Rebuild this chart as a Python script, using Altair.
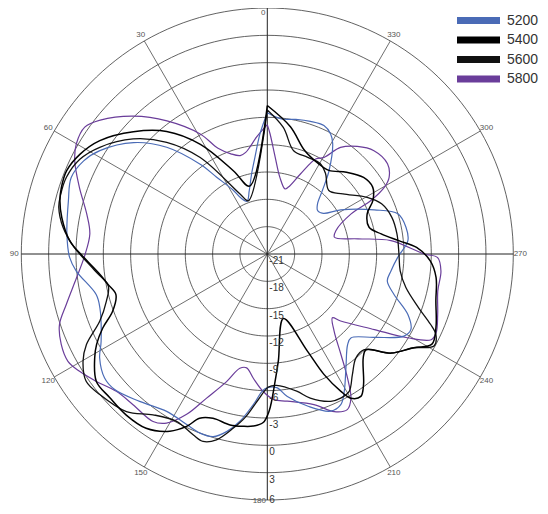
import altair as alt
import pandas as pd

# ---------------- data ----------------
series = ["5200", "5400", "5600", "5800"]
colors = ["#4a6bb6", "#000000", "#111111", "#6a3d9a"]
widths = [1.2, 1.5, 1.3, 1.2]

angles_5200 = [0, 3.5, 7.3, 11, 16, 21, 25.6, 28, 33.4, 36.8, 43.3, 50.2, 58.3, 63.1, 68.7, 75, 84.4, 91,
               95.1, 103.3, 107.8, 117.7, 121.8, 127.3, 131.6, 139.1, 147.4, 154.7, 159.4, 163.5, 167.1,
               170.7, 174.7, 179, 184, 188, 195, 202, 206, 209.2, 214.6, 221.5, 224.9, 232.1, 239, 242.3,
               246.7, 252.3, 257.3, 262.2, 268.4, 275.4, 280.9, 287.1, 292.4, 301, 306, 310.9, 315, 319,
               323.5, 329.4, 332.2, 336.2, 342, 348, 354, 360]
values_5200 = [-5.5, -7.8, -10.3, -12.0, -13.8, -14.8, -14.1, -13.1, -10.9, -8.7, -4.9, -1.9, 0.6, 1.6, 2.1, 1.6,
               1.1, 0.7, 0.05, -1.7, -1.7, -0.4, 0.65, 1.45, 1.4, 0.4, -0.5, -0.3, 0.0, -0.1, -1.0, -2.4,
               -4.4, -6.2, -6.3, -5.2, -3.7, -2.4, -2.6, -3.7, -5.8, -7.7, -8.0, -6.1, -3.5, -3.2, -4.2,
               -6.4, -7.5, -7.3, -6.7, -5.5, -5.5, -6.0, -8.3, -11.6, -13.4, -13.7, -13.2, -11.8, -9.6,
               -6.9, -6.1, -5.6, -5.7, -5.9, -6.1, -5.5]

angles_5400 = [0, 14.6, 22, 31.4, 39.4, 47.6, 55.9, 62, 67.5, 72.1, 75.6, 80, 86.1, 91.2, 97, 100.8, 105,
               110.3, 114.2, 117.9, 121, 126.7, 132.4, 138.8, 145.2, 151.2, 154.9, 157.6, 161.7, 167.7, 172,
               175.3, 178.6, 180.7, 183.5, 185.9, 194, 202.4, 205.2, 208.2, 210.1, 213.3, 216.4, 222.8,
               225.9, 231.3, 237.4, 241.3, 246.4, 254.5, 262.1, 267.6, 272.5, 275.8, 280, 284.7, 291.8,
               296.9, 302.4, 308.5, 315.9, 323.6, 330.5, 340.3, 349.7, 360]
values_5400 = [-4.7, -13.3, -11.2, -6.9, -3.6, -1.1, 1.2, 2.3, 2.85, 2.75, 2.5, 1.9, 0.75, -0.9, -2.5, -3.2,
               -3.8, -2.9, -1.2, 0.2, 1.1, 2.4, 2.4, 2.5, 2.3, 1.2, -0.1, -1.5, -2.0, -1.8, -1.9, -2.05,
               -2.5, -3.8, -7.0, -9.2, -13.7, -9.5, -6.4, -3.9, -2.7, -2.3, -3.2, -5.5, -5.9, -3.6, -1.9,
               -0.4, -0.8, -1.8, -2.3, -3.1, -4.6, -6.5, -8.3, -9.45, -9.2, -8.0, -7.3, -7.5, -8.5, -9.6,
               -9.6, -8.9, -6.8, -4.7]

angles_5600 = [0, 19.6, 24.3, 34.8, 42, 49.4, 57.5, 63.2, 69.1, 74, 77.4, 82.6, 88, 95.6, 101.4, 106.3,
               111.8, 116.6, 120.2, 125.1, 130, 138.2, 144.6, 151.5, 157.7, 161.1, 164.7, 168.9, 172.5,
               176.5, 180.5, 184, 192.1, 196.6, 203.3, 207, 210.8, 215.2, 220.4, 225.4, 231.3, 237.4,
               241.1, 244.5, 246.7, 250.5, 256.4, 262.8, 270, 278.8, 286.4, 293.7, 299.6, 308.5, 315.9,
               324.1, 329.7, 337.3, 345.7, 352.8, 360]
values_5600 = [-5.2, -14.8, -13.8, -8.1, -4.5, -1.6, 0.8, 2.05, 2.6, 2.6, 2.45, 1.6, 0.2, -2.0, -3.2, -2.6,
               -1.2, 1.2, 2.4, 3.3, 3.0, 2.2, 0.65, -0.1, 0.45, 0.75, 0.15, -1.5, -3.0, -5.0, -6.4, -6.55,
               -5.6, -4.5, -3.4, -3.25, -3.45, -4.8, -6.0, -6.05, -3.6, -1.9, -0.1, -0.5, -1.5, -3.4,
               -5.35, -6.3, -6.55, -6.6, -6.75, -7.3, -8.4, -10.4, -11.3, -10.1, -9.5, -9.5, -9.3, -7.0,
               -5.2]

angles_5800 = [0, 5.2, 9.2, 12, 15.4, 20, 25, 29.2, 37, 44.2, 51.3, 55.2, 60, 64.1, 70.4, 77.5, 83.6, 91,
               97.1, 104.1, 108.8, 113.7, 118.3, 122, 126.7, 132.3, 138.3, 145.7, 149.2, 153.3, 157.1,
               162.3, 166.5, 169.7, 173.5, 178.3, 182.6, 187.7, 197.2, 203, 207.2, 210.1, 212.9, 216.2,
               220.9, 225.6, 227.6, 234.8, 239.1, 242.4, 245, 250.4, 257.7, 264.4, 268.8, 270, 276.2,
               279.5, 284, 288.8, 295.6, 297.3, 299.7, 302.2, 306.9, 314.1, 320.1, 325.5, 329.6, 333,
               337.5, 342.5, 344.8, 350.6, 355.4, 358.7, 360]
values_5800 = [-6.8, -8.1, -9.1, -9.6, -9.8, -9.3, -8.2, -5.9, -2.7, 0.1, 2.5, 3.4, 3.2, 2.5, 0.9, -0.7,
               -1.4, -0.9, 0.1, 1.75, 3.1, 3.7, 3.85, 3.3, 2.4, 1.4, 1.15, 1.25, 0.6, -1.3, -3.8, -6.3,
               -8.1, -8.3, -7.3, -5.9, -5.0, -4.7, -3.7, -2.2, -1.8, -2.7, -4.8, -7.3, -9.8, -11.0, -10.1,
               -6.6, -3.1, -0.7, -0.55, -1.15, -1.85, -1.85, -2.3, -3.8, -7.35, -10.9, -13.4, -13.05,
               -10.8, -8.2, -6.2, -5.2, -4.5, -4.7, -5.6, -6.8, -8.7, -9.3, -11.5, -13.3, -13.6, -12.5,
               -10.3, -7.8, -6.8]

ring_ticks = [-18, -15, -12, -9, -6, -3, 0, 3, 6]
radial_labels = [-21, -18, -15, -12, -9, -6, -3, 0, 3, 6]
angle_ticks = [0, 30, 60, 90, 120, 150, 180, 210, 240, 270, 300, 330]

R_MIN, R_MAX = -21, 6

# ---------------- layout (style) ----------------
W, H = 532, 498
CX, CY, RPX = 259.3, 246.0, 246.0
XMIN, XMAX = -CX / RPX, (W - CX) / RPX
YMAX, YMIN = CY / RPX, -(H - CY) / RPX
xs = alt.Scale(domain=[XMIN, XMAX], nice=False, zero=False)
ys = alt.Scale(domain=[YMIN, YMAX], nice=False, zero=False)
SPAN = R_MAX - R_MIN
PX = 1.0 / RPX

XENC = alt.X("x:Q", scale=xs, axis=None)
YENC = alt.Y("y:Q", scale=ys, axis=None)

# rings
rings = alt.Chart(pd.DataFrame({"tick": ring_ticks})).transform_calculate(
    a="sequence(0, 362, 2)"
).transform_flatten(["a"]).transform_calculate(
    r=f"(datum.tick - ({R_MIN})) / {SPAN}",
    x="-datum.r * sin(datum.a * PI / 180)",
    y="datum.r * cos(datum.a * PI / 180)",
).mark_line(stroke="#3a3a3a", strokeWidth=0.8).encode(
    x=XENC, y=YENC, detail="tick:N", order="a:Q"
)

spoke_base = alt.Chart(pd.DataFrame({"a": angle_ticks})).transform_calculate(
    x="0", y="0",
    x1="-sin(datum.a * PI / 180)",
    y1="cos(datum.a * PI / 180)",
)
spokes = spoke_base.transform_filter("datum.a % 90 != 0").mark_rule(
    stroke="#4a4a4a", strokeWidth=0.8
).encode(x=XENC, y=YENC, x2="x1:Q", y2="y1:Q")
axes_main = spoke_base.transform_filter("datum.a % 90 == 0").mark_rule(
    stroke="#222222", strokeWidth=1.0
).encode(x=XENC, y=YENC, x2="x1:Q", y2="y1:Q")

# data lines
layers = [rings, spokes, axes_main]
series_data = {
    "5200": (angles_5200, values_5200),
    "5400": (angles_5400, values_5400),
    "5600": (angles_5600, values_5600),
    "5800": (angles_5800, values_5800),
}
for name in ["5800", "5200", "5600", "5400"]:
    i = series.index(name)
    angs, vals = series_data[name]
    df = pd.DataFrame({"angle": angs, "value": vals, "order": list(range(len(angs)))})
    ln = alt.Chart(df).transform_calculate(
        r=f"(datum.value - ({R_MIN})) / {SPAN}",
        x="-datum.r * sin(datum.angle * PI / 180)",
        y="datum.r * cos(datum.angle * PI / 180)",
    ).mark_line(interpolate="catmull-rom", stroke=colors[i], strokeWidth=widths[i]).encode(
        x=XENC, y=YENC, order="order:Q"
    )
    layers.append(ln)

# radial labels
rlabels = alt.Chart(pd.DataFrame({"tick": radial_labels})).transform_calculate(
    r=f"(datum.tick - ({R_MIN})) / {SPAN}",
    x=f"{2 * PX}",
    y=f"max(-datum.r - {7 * PX}, {YMIN + 6 * PX})",
    label="'' + datum.tick",
).mark_text(align="left", baseline="middle", fontSize=10, font="Liberation Sans",
            color="#333333").encode(x=XENC, y=YENC, text="label:N")
layers.append(rlabels)

# angle labels
alabels = alt.Chart(pd.DataFrame({"a": angle_ticks})).transform_calculate(
    lr=f"1 + {7 * PX}",
    x=f"datum.a == 0 ? {-4 * PX} : (datum.a == 180 ? {-8 * PX} : -sin(datum.a * PI / 180) * datum.lr)",
    y=f"datum.a == 0 ? {YMAX - 4.5 * PX} : (datum.a == 180 ? {YMAX - 493 * PX} : cos(datum.a * PI / 180) * datum.lr)",
    label="'' + datum.a",
).mark_text(align="center", baseline="middle", fontSize=8, font="Liberation Sans",
            color="#555555").encode(x=XENC, y=YENC, text="label:N")
layers.append(alabels)

# legend
for i, name in enumerate(series):
    ypix = 12.5 + 19.5 * i
    leg_df = pd.DataFrame({"series": [name]})
    layers.append(alt.Chart(leg_df).mark_rule(stroke=colors[i], strokeWidth=7).encode(
        x=alt.value(449), x2=alt.value(492), y=alt.value(ypix)))
    layers.append(alt.Chart(leg_df).mark_text(align="left", baseline="middle", fontSize=14,
                                              font="Liberation Sans", color="#333333").encode(
        x=alt.value(499), y=alt.value(ypix), text="series:N"))

chart = alt.layer(*layers).properties(
    width=W, height=H, autosize=alt.AutoSizeParams(type="none"), padding=0,
    background="white"
).configure_view(strokeWidth=0)

chart.save("out.html", embed_options={"renderer": "svg", "actions": False})
